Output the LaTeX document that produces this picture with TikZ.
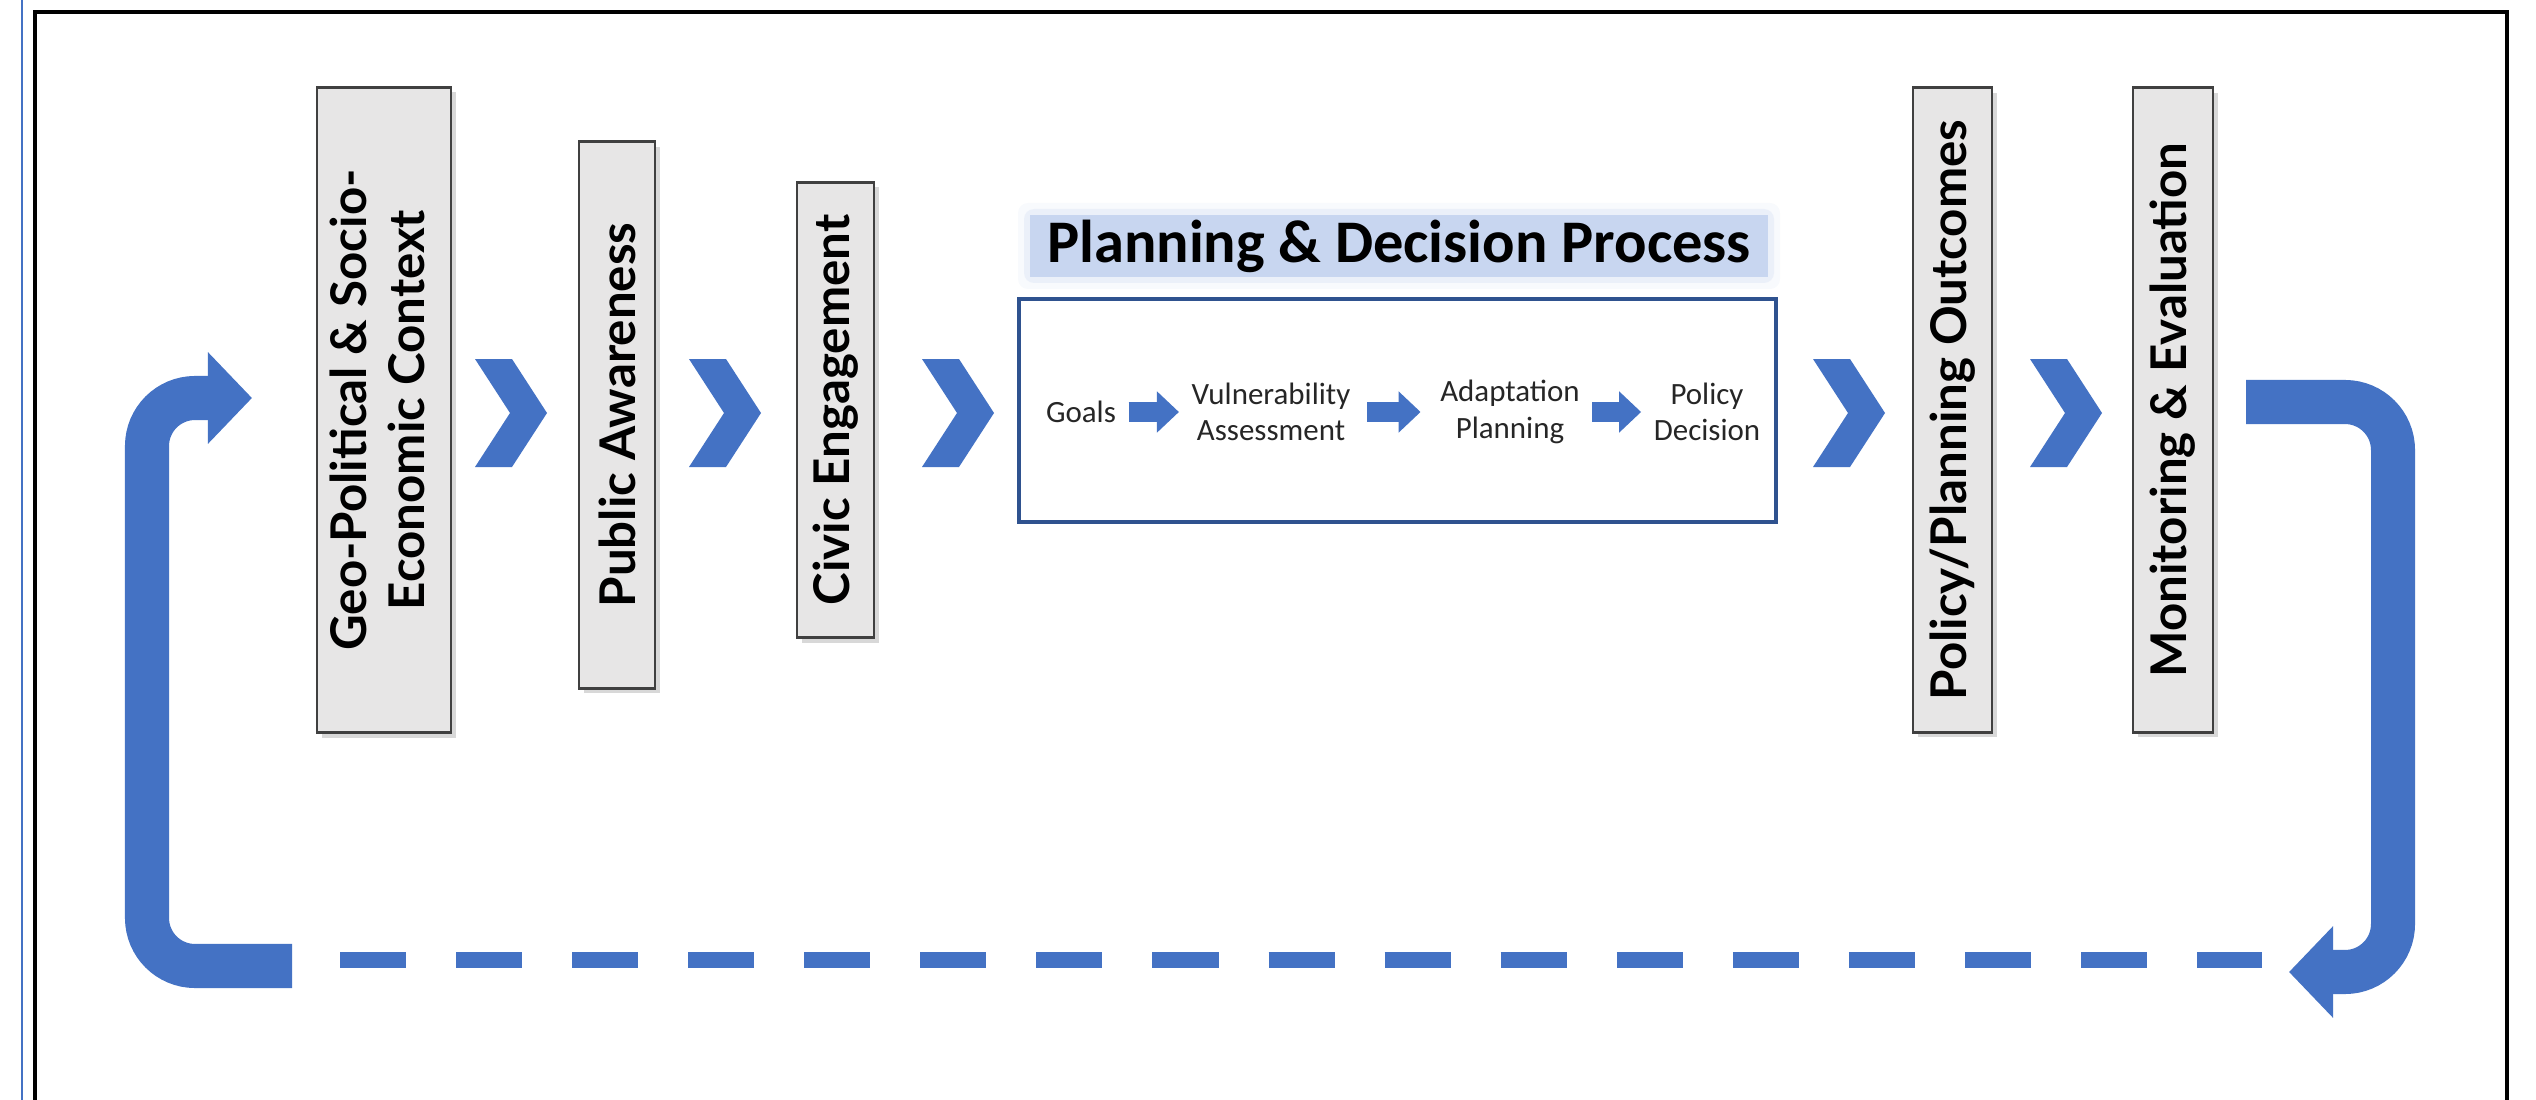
\documentclass[tikz,border=0pt]{standalone}
\usepackage{graphicx}
\usepackage{fontspec}
\setsansfont{Lato}
\newfontfamily\calfont{Carlito}
\usetikzlibrary{arrows.meta}
\usetikzlibrary{shadows}
\definecolor{flowblue}{RGB}{68,114,196}
\definecolor{boxgray}{RGB}{231,230,230}
\definecolor{navy}{RGB}{47,82,143}
\definecolor{bandblue}{RGB}{200,214,240}
\newcommand*{\flowy}{686}
\newcommand*{\chev}[1]{\fill[flowblue] (#1,\flowy+54) -- ++(37,0) -- ++(35,-54) -- ++(-35,-54) -- ++(-37,0) -- ++(35,54) -- cycle;}

\begin{document}
\begin{tikzpicture}[x=0.01cm, y=0.01cm,
    stage/.style={draw=black!75, line width=0.8pt, fill=boxgray, inner sep=0pt,
        drop shadow={shadow xshift=0.05cm, shadow yshift=-0.05cm, opacity=0.3},
        font=\sffamily\bfseries\fontsize{14}{16.5}\selectfont},
    phase/.style={inner sep=0pt, align=center, text=black!85, font=\calfont\fontsize{8.8}{10.3}\selectfont},
    blk/.style={flowblue, line width=0.2cm, -{Triangle[width=0.4cm, length=0.22cm]}, shorten <=0.12cm, shorten >=0.12cm},
    feedback/.style={flowblue, line width=0.44cm, rounded corners=0.48cm, -{Triangle[width=0.89cm, length=0.44cm]}},
    dashline/.style={flowblue, line width=0.16cm, dash pattern=on 0.66cm off 0.5cm}]
    \fill[white] (0,0) rectangle (2536,1099);
    \useasboundingbox (0,0) rectangle (2536,1099);
    \draw [flowblue, line width=0.02cm] (22,-10) -- (22,1110);
    \draw [black, line width=0.045cm] (35,-20) -- (35,1087) -- (2507,1087) -- (2507,-20);

    \node [stage, minimum width=1.34cm, minimum height=6.45cm] (geo) at (384,689) {\rotatebox{90}{\begin{tabular}{@{}c@{}}Geo-Political \& Socio-\\Economic Context\end{tabular}}};
    \node [stage, minimum width=0.76cm, minimum height=5.46cm] (pub) at (617,684) {\rotatebox{90}{Public Awareness}};
    \node [stage, minimum width=0.77cm, minimum height=4.55cm] (civic) at (835.5,689) {\rotatebox{90}{Civic Engagement}};
    \node [stage, minimum width=0.79cm, minimum height=6.44cm] (outc) at (1952.5,689) {\rotatebox{90}{Policy/Planning Outcomes}};
    \node [stage, minimum width=0.80cm, minimum height=6.44cm] (mon) at (2173,689) {\rotatebox{90}{Monitoring \& Evaluation}};

    \chev{475} \chev{689} \chev{922} \chev{1813} \chev{2030}

    %\fill[bandblue] (1030,822) rectangle (1768,884);
    \foreach \g/\o in {12/0.12,6/0.25}
        \fill [bandblue, opacity=\o, rounded corners=0.1cm] (1030-\g,822-\g) rectangle (1768+\g,884+\g);
    \node [fill=bandblue, minimum width=7.38cm, minimum height=0.61cm, inner sep=0pt, font=\calfont\bfseries\fontsize{17.2}{20}\selectfont] (title) at (1399,853) {Planning \& Decision Process};
    \node [draw=navy, line width=0.04cm, minimum width=7.57cm, minimum height=2.23cm] (plan) at (1397.5,688.5) {};

    \node [phase] (goals) at (1081,687) {Goals};
    \node [phase] (vul)   at (1271,687) {Vulnerability\\Assessment};
    \node [phase] (adapt) at (1510,687) {Adaptation\\Planning};
    \node [phase] (dec)   at (1707,687) {Policy\\Decision};
    \draw [blk] (goals) -- (vul);
    \draw [blk, shorten <=0.16cm, shorten >=0.19cm] (vul) -- (adapt);
    \draw [blk] (adapt) -- (dec);

    \coordinate (lb)    at (292,133);
    \coordinate (inL)   at (252,701);
    \coordinate (outR)  at (2246,697);
    \coordinate (backR) at (2289,127);
    \coordinate (dashL) at (340,139);
    \coordinate (dashR) at (2262,139);
    \draw [feedback] (lb) -- ++(-145,0) |- (inL);
    \draw [feedback] (outR) -- ++(147,0) |- (backR);
    \draw [dashline] (dashL) -- (dashR);
\end{tikzpicture}
\end{document}
